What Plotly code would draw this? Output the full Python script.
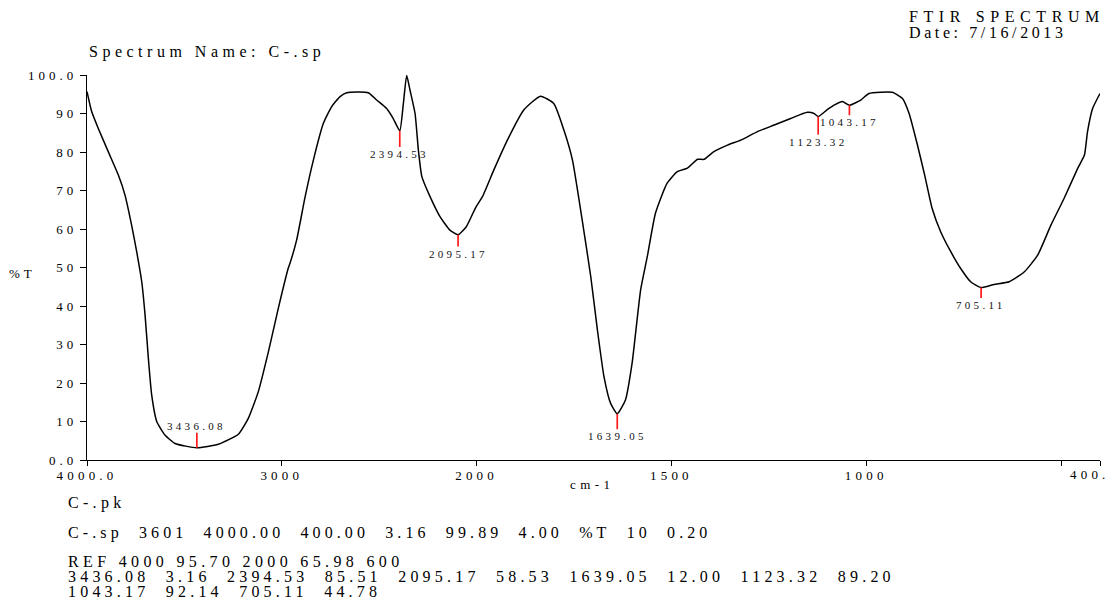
import numpy as np
import plotly.graph_objects as go

# ---------------- data ----------------
wavenumber = [4000, 3976, 3942, 3891, 3839, 3805, 3771, 3745, 3719, 3702, 3685, 3668, 3642, 3600, 3548,
              3436.08, 3326, 3223, 3172, 3121, 3069, 3018, 2967, 2958, 2924, 2881, 2838, 2787, 2744, 2701,
              2667, 2556, 2513, 2462, 2428, 2394.53, 2376, 2359, 2342, 2316, 2299, 2281, 2239, 2188, 2137,
              2095.17, 2053, 2019, 2000, 1985, 1956, 1921, 1879, 1836, 1802, 1776, 1754, 1729, 1707, 1690,
              1673, 1656, 1639.05, 1618, 1601, 1579, 1562, 1541, 1511, 1485, 1459, 1433, 1416, 1391, 1356,
              1322, 1279, 1236, 1194, 1151, 1134, 1123.32, 1100, 1080, 1061, 1043.17, 1014, 993, 933, 907,
              890, 869, 850, 831, 809, 783, 758, 732, 705.11, 672, 633, 594, 560, 526, 492, 457, 440, 432,
              419, 400]
transmittance = [95.7, 90.5, 86.1, 80.1, 74.0, 68.8, 61.0, 54.1, 46.3, 37.7, 26.4, 16.9, 10.0, 6.5, 4.3,
                 3.16, 4.1, 6.7, 10.8, 17.7, 28.1, 39.4, 49.8, 51.1, 57.1, 68.2, 77.9, 87.4, 91.8, 94.4,
                 95.4, 95.4, 93.5, 91.3, 88.7, 85.51, 92.6, 99.89, 96.1, 90.0, 80.5, 73.6, 68.4, 63.2, 59.7,
                 58.53, 60.6, 64.1, 65.98, 68.4, 75.3, 83.1, 90.9, 94.5, 92.6, 85.7, 77.9, 62.3, 47.6, 33.8,
                 21.6, 14.7, 12.00, 15.6, 25.1, 44.2, 52.8, 64.1, 71.9, 74.9, 75.8, 78.1, 78.1, 80.1, 81.8,
                 83.1, 85.3, 87.0, 88.7, 90.3, 90.0, 89.20, 91.0, 92.3, 93.1, 92.14, 93.5, 95.2, 95.5, 93.9,
                 90.0, 82.0, 74.0, 65.4, 59.3, 54.1, 49.8, 46.3, 44.78, 45.6, 46.3, 48.9, 53.2, 61.0, 68.0,
                 75.8, 79.2, 85.3, 91.3, 95.2]

peak_wavenumbers = [3436.08, 2394.53, 2095.17, 1639.05, 1123.32, 1043.17, 705.11]
peak_values = [3.16, 85.51, 58.53, 12.00, 89.20, 92.14, 44.78]

x_tick_values = [4000, 3000, 2000, 1500, 1000, 500, 400]
x_tick_labels = ["4000.0", "3000", "2000", "1500", "1000", "", "400."]
y_tick_values = [0, 10, 20, 30, 40, 50, 60, 70, 80, 90, 100]
y_tick_labels = ["0.0", "10", "20", "30", "40", "50", "60", "70", "80", "90", "100.0"]

spectrum_name = "C-.sp"
peak_file = "C-.pk"
date_text = "7/16/2013"
header_values = ["C-.sp", "3601", "4000.00", "400.00", "3.16", "99.89", "4.00", "%T", "10", "0.20"]
ref_values = ["REF", "4000", "95.70", "2000", "65.98", "600"]

# ---------------- styling ----------------
# peak marker stems (in %T units; positive = upwards)
peak_stem = [3.9, -4.2, -3.1, -4.0, -4.7, -2.6, -2.7]
FONT = "Liberation Serif"
NB = "\u00a0"


def axis_pos(w):
    """Instrument-style split scale: 4000-2000 cm-1 compressed 2:1."""
    w = np.asarray(w, dtype=float)
    return np.where(w > 2000, 2000 + (w - 2000) / 2.0, w)


def spaced(text, ls):
    return f'<span style="letter-spacing:{ls}px">{text}</span>'


# plot area in pixels (for placing free text)
L, R, T, B = 87, 1100, 75, 460


def px(xpix):
    return (xpix - L) / (R - L)


def py(ypix):
    return (B - ypix) / (B - T)


fig = go.Figure()

fig.add_trace(go.Scatter(
    x=axis_pos(wavenumber), y=transmittance, mode="lines",
    line=dict(color="black", width=1.5, shape="spline", smoothing=0.5),
    hoverinfo="skip", showlegend=False))

# red peak stems
sx, sy = [], []
for w, t, s in zip(peak_wavenumbers, peak_values, peak_stem):
    xp = float(axis_pos(w))
    sx += [xp, xp, None]
    sy += [t, t + s, None]
fig.add_trace(go.Scatter(x=sx, y=sy, mode="lines", line=dict(color="#ff1a1a", width=1.7),
                         hoverinfo="skip", showlegend=False))

annotations = []
for w, t, s in zip(peak_wavenumbers, peak_values, peak_stem):
    annotations.append(dict(
        x=float(axis_pos(w)), y=t + s, xref="x", yref="y",
        text=spaced(f"{w:.2f}", 3.3), showarrow=False,
        xanchor="center", yanchor="bottom" if s > 0 else "top",
        font=dict(family=FONT, size=11, color="#111"), borderpad=0))


def free_text(text, xpix, ypix, size, ls, anchor="left"):
    annotations.append(dict(
        x=px(xpix), y=py(ypix), xref="paper", yref="paper", text=spaced(text, ls),
        showarrow=False, xanchor=anchor, yanchor="middle",
        font=dict(family=FONT, size=size, color="black"), borderpad=0))


free_text(f"Spectrum Name: {spectrum_name}", 88, 52, 16, 4.5)
free_text("FTIR SPECTRUM", 908, 16, 16, 5.6)
free_text(f"Date: {date_text}", 908, 33, 16, 3.6)
free_text("%T", 8, 273, 13, 4.0)
free_text("cm-1", 592, 485, 13, 4.4, anchor="center")
# last x tick label sits at the page edge: right-aligned so it stays inside
free_text(x_tick_labels[-1], 1111, 474, 13, 4.2, anchor="right")

free_text(peak_file, 67, 503, 16, 4.3)
free_text((NB * 2).join(header_values), 67, 533, 16, 4.1)
free_text(NB.join(ref_values), 67, 561.5, 16, 4.35)
pairs = [f"{w:.2f}{NB*2}{t:.2f}" for w, t in zip(peak_wavenumbers, peak_values)]
free_text((NB * 2).join(pairs[:5]), 67, 576.5, 16, 4.2)
free_text((NB * 2).join(pairs[5:]), 67, 591.5, 16, 4.2)

fig.update_layout(
    width=1112, height=599,
    margin=dict(l=L, r=1112 - R, t=T, b=599 - B, autoexpand=False),
    paper_bgcolor="white", plot_bgcolor="white",
    showlegend=False,
    annotations=annotations,
    font=dict(family=FONT, color="black"),
)

fig.update_xaxes(
    range=[float(axis_pos(4000)), float(axis_pos(400))],
    tickmode="array", tickvals=axis_pos(x_tick_values).tolist(),
    ticktext=[spaced(t, 4.2) for t in x_tick_labels[:-1]] + [""],
    ticks="outside", ticklen=5, tickwidth=1.2, tickcolor="black",
    ticklabelstandoff=-2,
    showline=True, linecolor="black", linewidth=1.4,
    showgrid=False, zeroline=False, automargin=False,
    tickfont=dict(family=FONT, size=13, color="black"),
)
fig.update_yaxes(
    range=[0, 100],
    tickmode="array", tickvals=y_tick_values,
    ticktext=[spaced(t, 4.0) for t in y_tick_labels],
    ticks="outside", ticklen=6, tickwidth=1.2, tickcolor="black",
    showline=True, linecolor="black", linewidth=1.4,
    showgrid=False, zeroline=False, automargin=False,
    tickfont=dict(family=FONT, size=13, color="black"),
)

fig.write_html("out.html")
